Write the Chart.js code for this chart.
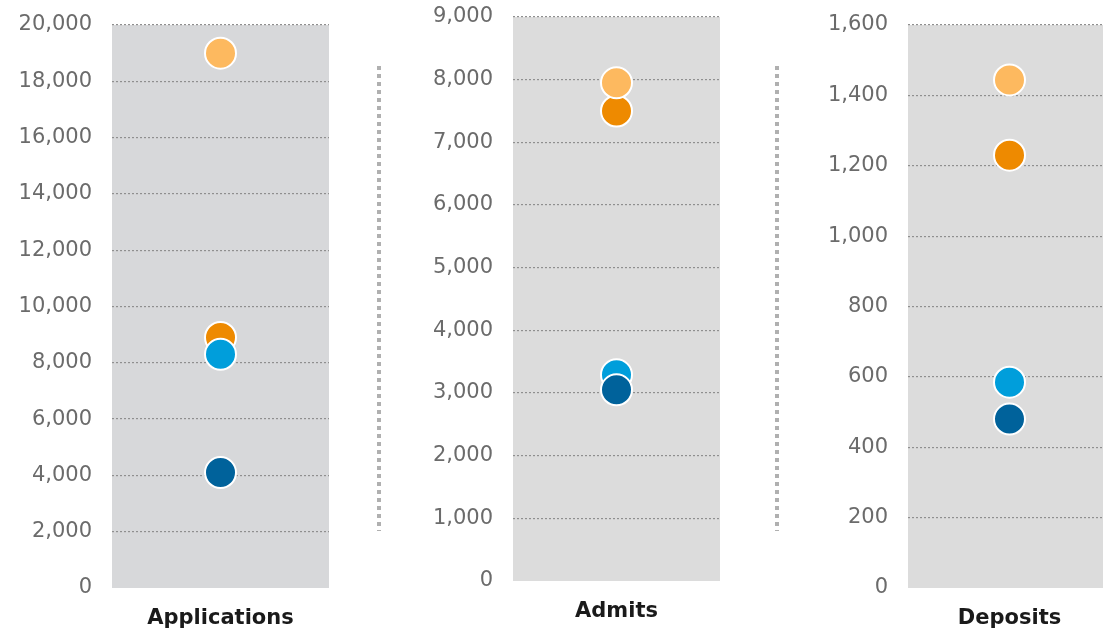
<!DOCTYPE html>
<html>
<head>
<meta charset="utf-8">
<script src="https://cdn.jsdelivr.net/npm/chart.js@4"></script>
<style>
  html, body { margin: 0; padding: 0; background: #fff; overflow: hidden; width: 1103px; height: 630px; }
  .panel { position: absolute; top: 0; height: 630px; }
  .sep { position: absolute; width: 4px; top: 66px; height: 465px;
         background: repeating-linear-gradient(to bottom, #b0b0b0 0px, #b0b0b0 4px, transparent 4px, transparent 8px); }
</style>
</head>
<body>
<div class="panel" style="left:0px;width:340px;"><canvas id="c1"></canvas></div>
<div class="panel" style="left:400px;width:330px;"><canvas id="c2"></canvas></div>
<div class="panel" style="left:790px;width:330px;"><canvas id="c3"></canvas></div>
<div class="sep" style="left:377px;"></div>
<div class="sep" style="left:775px;"></div>
<script>
// ---- data ----
const panels = ["Applications", "Admits", "Deposits"];
const seriesNames = ["Series A", "Series B", "Series C", "Series D"];
const seriesColors = ["#EE8A00", "#FDB95F", "#009EDB", "#00629B"];
const applicationsValues = [8900, 19000, 8300, 4100];
const admitsValues = [7500, 7950, 3290, 3050];
const depositsValues = [1230, 1444, 585, 480];
const axisMax = [20000, 9000, 1600];
const axisStep = [2000, 1000, 200];

const panelValues = [applicationsValues, admitsValues, depositsValues];

const plotBg = {
  id: 'plotBg',
  beforeDraw(chart, args, opts) {
    const {ctx, chartArea: a} = chart;
    ctx.save();
    ctx.fillStyle = opts.color;
    ctx.fillRect(a.left, a.top, a.right - a.left, a.bottom - a.top);
    ctx.restore();
  }
};

const layouts = [
  {id: 'c1', yWidth: 112, top: 25, xHeight: 42, right: 11, bg: '#d7d8da'},
  {id: 'c2', yWidth: 113, top: 17, xHeight: 49, right: 10, bg: '#dcdcdc'},
  {id: 'c3', yWidth: 118, top: 25, xHeight: 42, right: 9, bg: '#dcdcdc'}
];

const FONT = "'DejaVu Sans', Verdana, sans-serif";

panels.forEach((name, p) => {
  const L = layouts[p];
  const vals = panelValues[p];
  // draw order: lower order drawn on top -> dark blue on top, orange at bottom
  const datasets = seriesNames.map((s, i) => ({
    label: s,
    data: [vals[i]],
    backgroundColor: seriesColors[i],
    borderColor: '#ffffff',
    borderWidth: 2,
    pointRadius: 15.5,
    pointHoverRadius: 15.5,
    showLine: false,
    order: seriesNames.length - i
  }));
  new Chart(document.getElementById(L.id), {
    type: 'line',
    data: { labels: [name], datasets },
    plugins: [plotBg],
    options: {
      responsive: true,
      maintainAspectRatio: false,
      animation: false,
      events: [],
      layout: { autoPadding: false, padding: { top: L.top, right: L.right, left: 0, bottom: 0 } },
      plugins: { legend: { display: false }, tooltip: { enabled: false }, plotBg: { color: L.bg } },
      scales: {
        x: {
          type: 'category',
          offset: true,
          grid: { display: false, drawTicks: false },
          border: { display: false },
          afterFit(scale) { scale.height = L.xHeight; scale.paddingLeft = 0; scale.paddingRight = 0; },
          ticks: { color: '#1a1a1a', font: { family: FONT, size: 21, weight: 'bold' }, padding: 18 }
        },
        y: {
          min: 0,
          max: axisMax[p],
          afterFit(scale) { scale.width = L.yWidth; scale.paddingTop = 0; scale.paddingBottom = 0; },
          ticks: {
            stepSize: axisStep[p],
            color: '#6b6b6b',
            font: { family: FONT, size: 21 },
            padding: 20,
            callback: v => v.toLocaleString('en-US')
          },
          grid: {
            drawTicks: false,
            color: ctx => (ctx.tick && ctx.tick.value === 0) ? 'rgba(0,0,0,0)' : '#8f8f8f',
            lineWidth: 1.2
          },
          border: { display: false, dash: [2, 2] }
        }
      }
    }
  });
});
</script>
</body>
</html>
